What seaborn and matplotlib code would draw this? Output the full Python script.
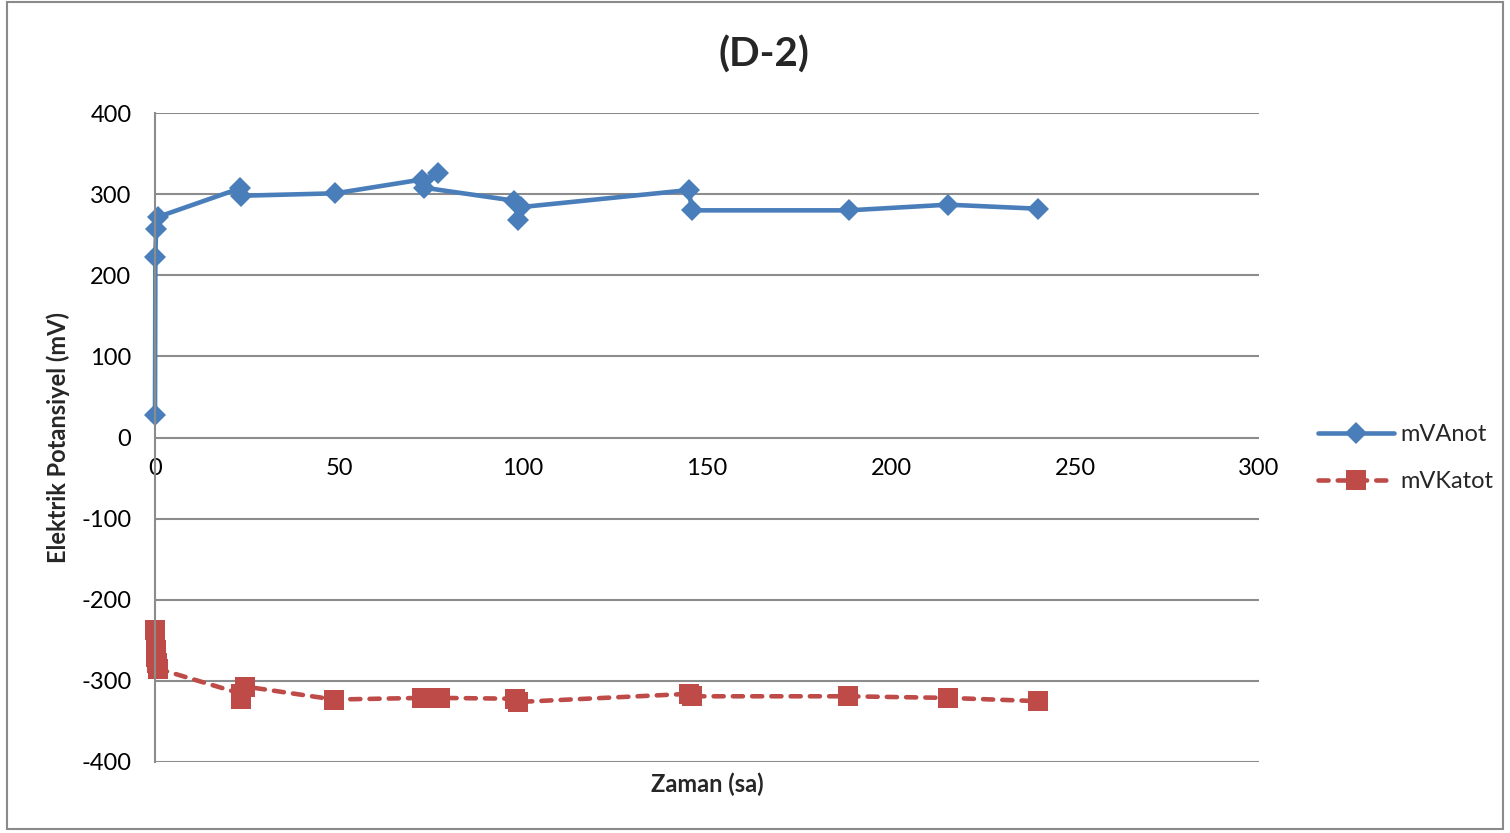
import pandas as pd
import matplotlib
matplotlib.use('AGG')
import matplotlib.pyplot as plt
from matplotlib.patches import Rectangle
import seaborn as sns

sns.set_theme(style="white")
plt.rcParams['font.family'] = ['Lato', 'DejaVu Sans']
plt.rcParams['axes.unicode_minus'] = False

# time (hours) and potential (mV)
anot_x = [0, 0.1, 0.3, 0.9, 23.0, 23.5, 49, 72.5, 77, 73, 97.5, 98.7, 99.5, 145, 146, 188.5, 215.5, 240]
anot_y = [28, 223, 257, 272, 307, 298, 301, 318, 326, 308, 292, 268, 284, 305, 280, 280, 287, 282]

katot_x = [0, 0.2, 0.4, 0.6, 0.8, 23.5, 23.3, 24.5, 48.7, 72.5, 77.4, 97.8, 98.7, 145, 145.8, 188.4, 215.6, 240]
katot_y = [-237, -262, -270, -278, -285, -316, -322, -307, -323, -321, -321, -322, -326, -316, -319, -319, -321, -325]

x_ticks = [0, 50, 100, 150, 200, 250, 300]
y_ticks = [-400, -300, -200, -100, 0, 100, 200, 300, 400]

blue = '#4A7EBB'
red = '#BE4B48'
grid_gray = '#8C8C8C'

df_anot = pd.DataFrame({'t': anot_x, 'mv': anot_y})
df_katot = pd.DataFrame({'t': katot_x, 'mv': katot_y})

fig = plt.figure(figsize=(15.1, 8.33), dpi=100)
ax = fig.add_axes([155/1510, 1-762/833, (1259-155)/1510, (762-113)/833])

sns.lineplot(data=df_anot, x='t', y='mv', ax=ax, sort=False, estimator=None,
             color=blue, lw=3.3, marker='D', markersize=11, mec=blue, mew=0,
             label='mVAnot')
sns.lineplot(data=df_katot, x='t', y='mv', ax=ax, sort=False, estimator=None,
             color=red, lw=3.3, marker='s', markersize=14, mec=red, mew=0,
             linestyle=(0, (2.2, 2.0)), dash_capstyle='round',
             label='mVKatot')
for line in ax.lines:
    line.set_clip_on(False)

ax.set_xlim(0, 300)
ax.set_ylim(-400, 400)
ax.set_xticks(x_ticks)
ax.set_yticks(y_ticks)
ax.yaxis.grid(True, color=grid_gray, lw=1.5)
ax.xaxis.grid(False)
ax.set_axisbelow(True)

for s in ['top', 'right']:
    ax.spines[s].set_visible(False)
ax.spines['bottom'].set_position(('data', 0))
ax.spines['bottom'].set_visible(False)
ax.spines['left'].set_color(grid_gray)
ax.spines['left'].set_linewidth(1.5)
ax.tick_params(axis='x', length=0, pad=15, labelsize=17, labelcolor='black')
ax.tick_params(axis='y', length=0, pad=17, labelsize=17, labelcolor='black')

ax.set_xlabel('Zaman (sa)', fontsize=17, fontweight='bold')
ax.xaxis.set_label_coords(0.5, -0.016)
ax.set_ylabel('Elektrik Potansiyel (mV)', fontsize=17, fontweight='bold')
ax.yaxis.set_label_coords(-0.077, 0.5)

fig.suptitle('(D-2)', x=764/1510, y=1-55/833, va='center', fontsize=29, fontweight='bold')

ax.legend(loc='center left', bbox_to_anchor=(1318/1510, 1-458/833), bbox_transform=fig.transFigure,
          frameon=False, fontsize=17, handlelength=3.2, handletextpad=0.3,
          labelspacing=1.1, borderpad=0, borderaxespad=0)

fig.patches.append(Rectangle((7/1510, 1-829/833), (1503-7)/1510, (829-2)/833,
                             transform=fig.transFigure, fill=False, ec='#8A8A8A', lw=1.5))

fig.savefig('out.png', dpi=100)
